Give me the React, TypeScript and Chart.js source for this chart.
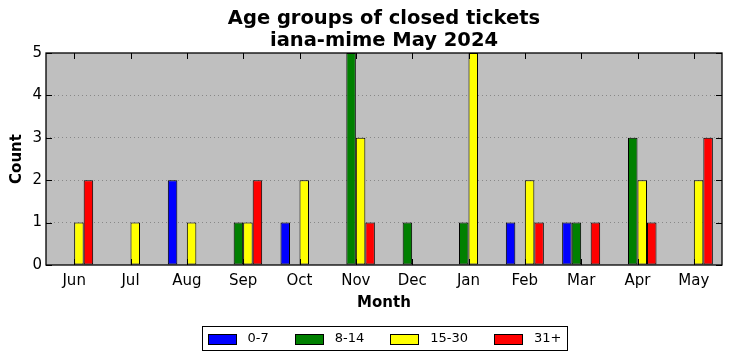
import { useEffect, useRef } from "react";
import { Chart, registerables } from "chart.js";

Chart.register(...registerables);

const months = ["Jun", "Jul", "Aug", "Sep", "Oct", "Nov", "Dec", "Jan", "Feb", "Mar", "Apr", "May"];
const age0to7 = [0, 0, 2, 0, 1, 0, 0, 0, 1, 1, 0, 0];
const age8to14 = [0, 0, 0, 1, 0, 5, 1, 1, 0, 1, 3, 0];
const age15to30 = [1, 1, 1, 1, 2, 3, 0, 5, 2, 0, 2, 2];
const age31plus = [2, 0, 0, 2, 0, 1, 0, 0, 1, 1, 1, 3];
const seriesLabels = ["0-7", "8-14", "15-30", "31+"];
const seriesColors = ["#0000ff", "#008000", "#ffff00", "#ff0000"];
const titleLines = ["Age groups of closed tickets", "iana-mime May 2024"];
const xTitle = "Month";
const yTitle = "Count";
const yMax = 5;

const FONT = "'DejaVu Sans', sans-serif";

const decor = {
  id: "decor",
  beforeDraw(chart: any) {
    const { ctx, chartArea: a, width, height } = chart;
    ctx.save();
    ctx.fillStyle = "#ffffff";
    ctx.fillRect(0, 0, width, height);
    ctx.fillStyle = "#bfbfbf";
    ctx.fillRect(a.left, a.top, a.right - a.left, a.bottom - a.top);
    ctx.restore();
  },
  afterDatasetsDraw(chart: any) {
    const { ctx, chartArea: a, scales } = chart;
    ctx.save();
    ctx.strokeStyle = "#000000";
    ctx.lineWidth = 1;
    const tl = 6;
    ctx.beginPath();
    scales.y.ticks.forEach((t: any) => {
      const y = Math.round(scales.y.getPixelForValue(t.value)) + 0.5;
      ctx.moveTo(a.left, y);
      ctx.lineTo(a.left + tl, y);
      ctx.moveTo(a.right, y);
      ctx.lineTo(a.right - tl, y);
    });
    months.forEach((_, i) => {
      const x = Math.round(scales.x.getPixelForValue(i)) + 0.5;
      ctx.moveTo(x, a.top);
      ctx.lineTo(x, a.top + tl);
      ctx.moveTo(x, a.bottom);
      ctx.lineTo(x, a.bottom - tl);
    });
    ctx.stroke();
    ctx.lineWidth = 1.3;
    ctx.strokeRect(a.left, a.top, a.right - a.left, a.bottom - a.top);
    ctx.restore();
  },
  afterDraw(chart: any) {
    const { ctx, chartArea: a } = chart;
    const cxp = (a.left + a.right) / 2;
    ctx.save();
    ctx.fillStyle = "#000000";
    ctx.textAlign = "center";
    ctx.textBaseline = "middle";
    ctx.font = `bold 19.5px ${FONT}`;
    ctx.fillText(titleLines[0], cxp, 19);
    ctx.fillText(titleLines[1], cxp, 41);

    ctx.font = `bold 15px ${FONT}`;
    ctx.fillText(xTitle, cxp, 303);
    ctx.save();
    ctx.translate(17, (a.top + a.bottom) / 2);
    ctx.rotate(-Math.PI / 2);
    ctx.fillText(yTitle, 0, 0);
    ctx.restore();

    // legend
    ctx.font = `13px ${FONT}`;
    const ds = chart.data.datasets;
    const boxW = 28, boxH = 10, gapText = 12, gapItem = 26, padL = 5, padR = 6;
    const widths = ds.map((d: any) => ctx.measureText(d.label).width);
    let total = padL + padR;
    widths.forEach((w: number, i: number) => {
      total += boxW + gapText + w + (i < widths.length - 1 ? gapItem : 0);
    });
    total = Math.round(total);
    const lx = Math.round(cxp - total / 2) + 0.5;
    const ly = 326.5;
    const lh = 24;
    ctx.fillStyle = "#ffffff";
    ctx.fillRect(lx, ly, total, lh);
    ctx.strokeStyle = "#000000";
    ctx.lineWidth = 1;
    ctx.strokeRect(lx, ly, total, lh);
    let x = lx + padL;
    const cy = ly + lh / 2;
    ctx.textAlign = "left";
    ctx.textBaseline = "middle";
    ds.forEach((d: any, i: number) => {
      const bx = Math.round(x) + 0.5;
      ctx.fillStyle = d.backgroundColor;
      ctx.fillRect(bx, Math.round(cy - boxH / 2) + 0.5, boxW, boxH);
      ctx.strokeRect(bx, Math.round(cy - boxH / 2) + 0.5, boxW, boxH);
      ctx.fillStyle = "#000000";
      ctx.fillText(d.label, x + boxW + gapText, cy + 0.5);
      x += boxW + gapText + widths[i] + gapItem;
    });
    ctx.restore();
  },
};

export default function App() {
  const ref = useRef<HTMLCanvasElement | null>(null);
  useEffect(() => {
    if (!ref.current) return;
    const series = [age0to7, age8to14, age15to30, age31plus];
    const chart = new Chart(ref.current, {
      type: "bar",
      data: {
        labels: months,
        datasets: series.map((data, i) => ({
          label: seriesLabels[i],
          data,
          backgroundColor: seriesColors[i],
          borderColor: "#000000",
          borderWidth: 1,
          borderSkipped: false,
          categoryPercentage: 0.675,
          barPercentage: 1.0,
        })),
      },
      options: {
        responsive: false,
        animation: false,
        devicePixelRatio: 1,
        layout: { padding: { left: 0, right: 10, top: 53, bottom: 46 } },
        plugins: {
          legend: { display: false },
          tooltip: { enabled: false },
          title: { display: false },
        },
        scales: {
          x: {
            type: "category",
            offset: true,
            grid: { display: false, drawTicks: false },
            border: { display: false },
            ticks: { color: "#000000", font: { family: FONT, size: 15 }, padding: 7, maxRotation: 0, autoSkip: false },
            afterFit: (s: any) => { s.height = 50; },
          },
          y: {
            min: 0,
            max: yMax,
            grid: {
              drawTicks: false,
              color: (c: any) => (c.tick && (c.tick.value === 0 || c.tick.value === yMax) ? "rgba(0,0,0,0)" : "#888888"),
              lineWidth: 1,
            },
            border: { display: false, dash: [1, 3] },
            ticks: { stepSize: 1, color: "#000000", font: { family: FONT, size: 15 }, padding: 4 },
            afterFit: (s: any) => { s.width = 46; },
          },
        },
      },
      plugins: [decor],
    });
    return () => chart.destroy();
  }, []);
  return (
    <div style={{ position: "fixed", left: 0, top: 0, width: 732, height: 361 }}>
      <canvas ref={ref} width={732} height={361} style={{ display: "block" }} />
    </div>
  );
}
